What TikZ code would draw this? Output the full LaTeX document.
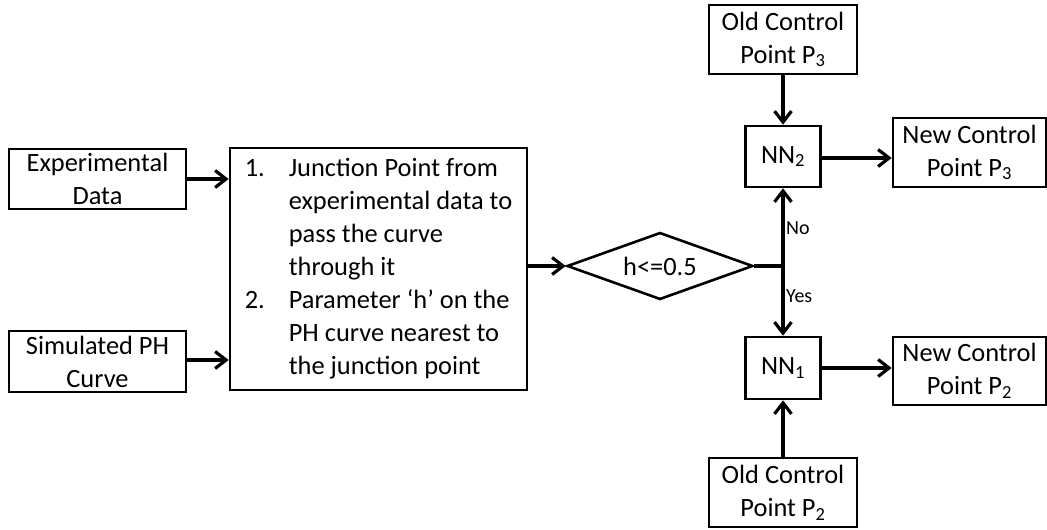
\documentclass[tikz,border=0pt]{standalone}
\usepackage{fontspec}
\setmainfont{Carlito}
\usetikzlibrary{arrows.meta,shapes.geometric}
\newcommand\mainfs{\fontsize{26.4}{33}\selectfont}
\newcommand\labfs{\fontsize{20}{24}\selectfont}
\begin{document}
\begin{tikzpicture}[x=1pt,y=-1pt,
  plainbox/.style={draw, line width=2.6pt, inner sep=0pt, font=\mainfs},
  box/.style={plainbox, align=center},
  conn/.style={line width=3.2pt, -{Straight Barb[length=11pt,width=17pt]}},
  wire/.style={line width=3.2pt},
  lbl/.style={font=\labfs, inner sep=0pt}]
\useasboundingbox[fill=white] (0,0) rectangle (1047,530);

% left inputs
\node[box, minimum width=177pt, minimum height=60pt] (exp) at (97.5,179) {Experimental\\Data};
\node[box, minimum width=177pt, minimum height=61pt] (sim) at (97.5,361.5) {Simulated PH\\Curve};

% process box
\node[plainbox, minimum width=297pt, minimum height=242pt] (proc) at (378.5,269)
  {\begin{tabular}{@{}p{44pt}@{}l@{}}
   1.&Junction Point from\\
     &experimental data to\\
     &pass the curve\\
     &through it\\
   2.&Parameter ‘h’ on the\\
     &PH curve nearest to\\
     &the junction point
   \end{tabular}};

% decision
\node[draw, diamond, aspect=2.78, minimum width=186pt, minimum height=67pt,
      inner sep=0pt, line width=2.6pt, font=\mainfs] (dec) at (660,266) {h<=0.5};

% right column
\node[box, minimum width=148pt, minimum height=69pt] (old3) at (783,39.5) {Old Control\\Point P\textsubscript{3}};
\node[box, minimum width=75pt, minimum height=61pt] (nn2) at (783,156.5) {NN\textsubscript{2}};
\node[box, minimum width=75pt, minimum height=62pt] (nn1) at (783,368) {NN\textsubscript{1}};
\node[box, minimum width=148pt, minimum height=69pt] (old2) at (783,492.5) {Old Control\\Point P\textsubscript{2}};
\node[box, minimum width=153pt, minimum height=69pt] (new3) at (969.5,152.5) {New Control\\Point P\textsubscript{3}};
\node[box, minimum width=153pt, minimum height=68pt] (new2) at (969.5,371) {New Control\\Point P\textsubscript{2}};

% connectors
\draw[conn] (exp.east) -- (exp.east -| proc.west);
\draw[conn] (sim.east |- 0,360) -- (proc.west |- 0,360);
\draw[conn] (proc.east |- dec.west) -- (dec.west);
\coordinate (j) at (dec.east -| nn2.south);
\draw[wire] (dec.east) -- (j);
\draw[conn] (j) -- (nn2.south);
\draw[conn] (j) -- (nn1.north);
\draw[conn] (old3.south) -- (nn2.north);
\draw[conn] (old2.north) -- (nn1.south);
\draw[conn] (nn2.east |- 0,158) -- (new3.west |- 0,158);
\draw[conn] (nn1.east) -- (nn1.east -| new2.west);

% labels
\node[lbl, anchor=west] (no) at (786,228) {No};
\node[lbl, anchor=west] (yes) at (786,296) {Yes};
\end{tikzpicture}
\end{document}
